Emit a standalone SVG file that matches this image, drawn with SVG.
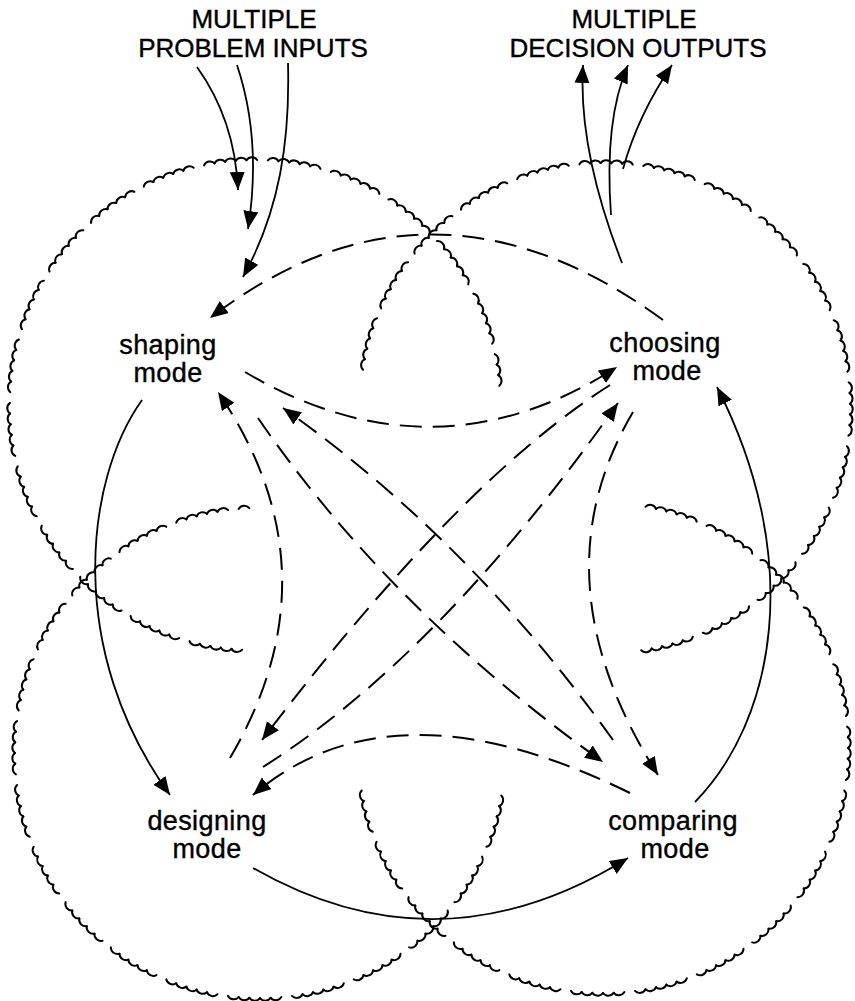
<svg xmlns="http://www.w3.org/2000/svg" width="855" height="1001" viewBox="0 0 855 1001">
<style>
.cl{fill:none;stroke:#000;stroke-width:2;stroke-linecap:round}
.sol{fill:none;stroke:#000;stroke-width:1.8}
.dsh{fill:none;stroke:#000;stroke-width:2;stroke-dasharray:22 11}
.lbl{font-family:"Liberation Sans",Arial,Helvetica,sans-serif;font-size:27px;fill:#000;stroke:#000;stroke-width:0.4;text-anchor:middle;letter-spacing:0.4px}
.hd{font-family:"Liberation Sans",Arial,Helvetica,sans-serif;font-size:26px;fill:#000;stroke:#000;stroke-width:0.4;text-anchor:middle}
</style>
<defs>
<path id="s" d="M245,0A6.5,6.5 0 0 1 244.77,10.69"/>
<g id="q">
<use href="#s"/><use href="#s" transform="rotate(2.5)"/><use href="#s" transform="rotate(5)"/><use href="#s" transform="rotate(7.5)"/><use href="#s" transform="rotate(10)"/>
</g>
<marker id="ah" markerUnits="userSpaceOnUse" markerWidth="19" markerHeight="16" refX="18" refY="7.5" orient="auto">
<path d="M0,0L18,7.5L0,15Z" fill="#000"/>
</marker>
</defs>
<rect width="855" height="1001" fill="#fff"/>

<g id="inputs">
<text class="hd" x="254" y="28">MULTIPLE</text>
<text class="hd" x="253" y="57">PROBLEM INPUTS</text>
</g>
<g id="outputs">
<text class="hd" x="634" y="28">MULTIPLE</text>
<text class="hd" x="638" y="57">DECISION OUTPUTS</text>
</g>

<g id="shaping">
<g class="cl" transform="translate(255,405)">
<use href="#q" transform="rotate(93)"/><use href="#q" transform="rotate(108)"/><use href="#q" transform="rotate(123)"/><use href="#q" transform="rotate(138)"/><use href="#q" transform="rotate(153)"/><use href="#q" transform="rotate(168)"/><use href="#q" transform="rotate(183)"/><use href="#q" transform="rotate(198)"/><use href="#q" transform="rotate(213)"/><use href="#q" transform="rotate(228)"/><use href="#q" transform="rotate(243)"/><use href="#q" transform="rotate(258)"/><use href="#q" transform="rotate(273)"/><use href="#q" transform="rotate(288)"/><use href="#q" transform="rotate(303)"/><use href="#q" transform="rotate(318)"/><use href="#q" transform="rotate(333)"/><use href="#s" transform="rotate(348)"/><use href="#s" transform="rotate(350.5)"/><use href="#s" transform="rotate(353)"/>
</g>
<text class="lbl" x="168" y="354">shaping</text>
<text class="lbl" x="168" y="382">mode</text>
</g>

<g id="choosing">
<g class="cl" transform="translate(605,408)">
<use href="#q" transform="rotate(189)"/><use href="#q" transform="rotate(204)"/><use href="#q" transform="rotate(219)"/><use href="#q" transform="rotate(234)"/><use href="#q" transform="rotate(249)"/><use href="#q" transform="rotate(264)"/><use href="#q" transform="rotate(279)"/><use href="#q" transform="rotate(294)"/><use href="#q" transform="rotate(309)"/><use href="#q" transform="rotate(324)"/><use href="#q" transform="rotate(339)"/><use href="#q" transform="rotate(354)"/><use href="#q" transform="rotate(369)"/><use href="#q" transform="rotate(384)"/><use href="#q" transform="rotate(399)"/><use href="#q" transform="rotate(414)"/><use href="#q" transform="rotate(429)"/>
</g>
<text class="lbl" x="665" y="352">choosing</text>
<text class="lbl" x="667" y="380">mode</text>
</g>

<g id="designing">
<g class="cl" transform="translate(260,753)">
<use href="#q" transform="rotate(10)"/><use href="#q" transform="rotate(25)"/><use href="#q" transform="rotate(40)"/><use href="#q" transform="rotate(55)"/><use href="#q" transform="rotate(70)"/><use href="#q" transform="rotate(85)"/><use href="#q" transform="rotate(100)"/><use href="#q" transform="rotate(115)"/><use href="#q" transform="rotate(130)"/><use href="#q" transform="rotate(145)"/><use href="#q" transform="rotate(160)"/><use href="#q" transform="rotate(175)"/><use href="#q" transform="rotate(190)"/><use href="#q" transform="rotate(205)"/><use href="#q" transform="rotate(220)"/><use href="#q" transform="rotate(235)"/><use href="#q" transform="rotate(250)"/><use href="#s" transform="rotate(265)"/>
</g>
<text class="lbl" x="207" y="830">designing</text>
<text class="lbl" x="207" y="858">mode</text>
</g>

<g id="comparing">
<g class="cl" transform="translate(603,748)">
<use href="#q" transform="rotate(280)"/><use href="#q" transform="rotate(295)"/><use href="#q" transform="rotate(310)"/><use href="#q" transform="rotate(325)"/><use href="#q" transform="rotate(340)"/><use href="#q" transform="rotate(355)"/><use href="#q" transform="rotate(370)"/><use href="#q" transform="rotate(385)"/><use href="#q" transform="rotate(400)"/><use href="#q" transform="rotate(415)"/><use href="#q" transform="rotate(430)"/><use href="#q" transform="rotate(445)"/><use href="#q" transform="rotate(460)"/><use href="#q" transform="rotate(475)"/><use href="#q" transform="rotate(490)"/><use href="#q" transform="rotate(505)"/><use href="#s" transform="rotate(520)"/><use href="#s" transform="rotate(522.5)"/><use href="#s" transform="rotate(525)"/><use href="#s" transform="rotate(527.5)"/>
</g>
<text class="lbl" x="673" y="830">comparing</text>
<text class="lbl" x="675" y="858">mode</text>
</g>

<g id="connectors">
<path class="sol" marker-end="url(#ah)" d="M197,67Q235,120 238,190"/>
<path class="sol" marker-end="url(#ah)" d="M237,65Q262,140 248,229"/>
<path class="sol" marker-end="url(#ah)" d="M288,63C290,140 280,210 243,277"/>
<path class="sol" marker-end="url(#ah)" d="M622,263Q578,150 583,65"/>
<path class="sol" marker-end="url(#ah)" d="M611,215Q604,120 628,65"/>
<path class="sol" marker-end="url(#ah)" d="M623,169Q638,115 672,65"/>
<path class="sol" marker-end="url(#ah)" d="M142,400C85,480 65,650 170,795"/>
<path class="sol" marker-end="url(#ah)" d="M253,868Q440,975 628,858"/>
<path class="sol" marker-end="url(#ah)" d="M695,802C775,720 805,560 717,387"/>
<path class="dsh" marker-end="url(#ah)" d="M663,320Q430,150 210,318"/>
<path class="dsh" marker-end="url(#ah)" d="M245,372Q435,484 617,367"/>
<path class="dsh" marker-end="url(#ah)" d="M230,758Q340,571 218,392"/>
<path class="dsh" marker-end="url(#ah)" d="M633,412Q534,580 658,775"/>
<path class="dsh" marker-end="url(#ah)" d="M630,793Q392,676 253,795"/>
<path class="dsh" marker-end="url(#ah)" d="M258,418Q390,610 603,762"/>
<path class="dsh" marker-end="url(#ah)" d="M613,740Q470,540 283,408"/>
<path class="dsh" marker-end="url(#ah)" d="M610,385Q460,480 262,740"/>
<path class="dsh" marker-end="url(#ah)" d="M263,767Q440,655 618,403"/>
</g>
</svg>
